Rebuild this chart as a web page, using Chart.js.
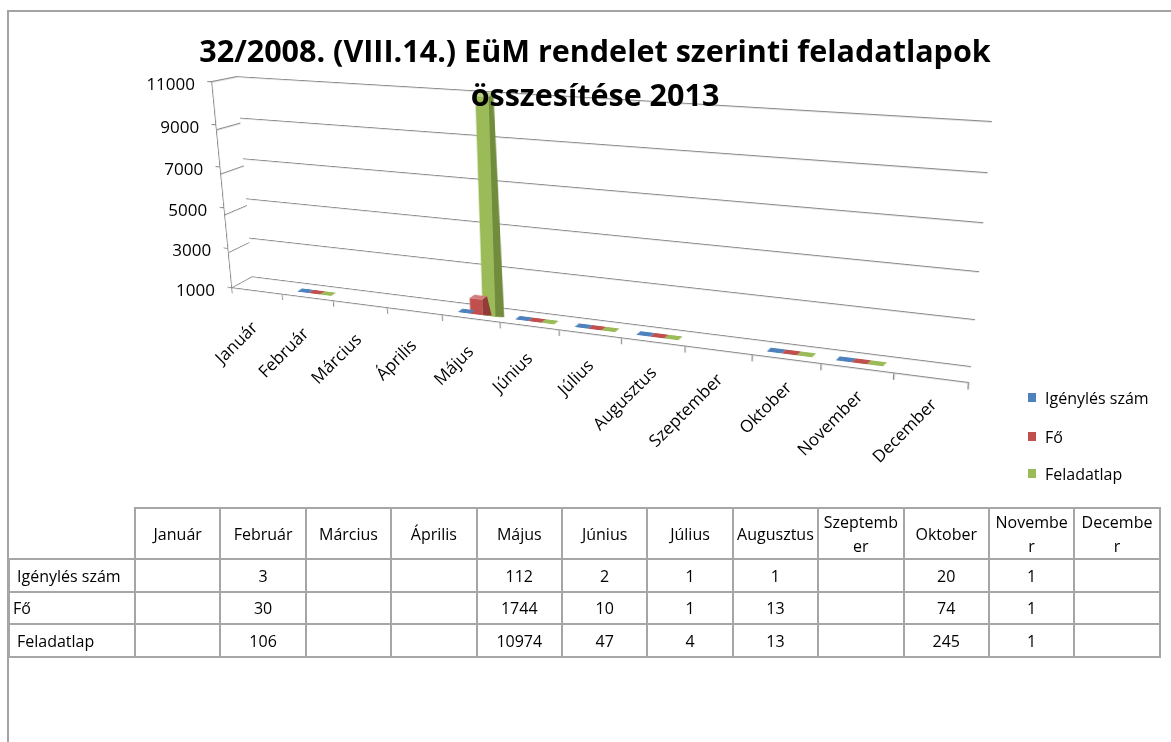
<!DOCTYPE html>
<html><head><meta charset="utf-8">
<script src="https://cdn.jsdelivr.net/npm/chart.js@4.4.1/dist/chart.umd.min.js"></script>
<style>
html,body{margin:0;padding:0;background:#fff;}
body{width:1171px;height:742px;overflow:hidden;position:relative;font-family:'Open Sans',sans-serif;color:#000;}
#stage{position:absolute;left:0;top:0;width:1171px;height:742px;}
#frame{position:absolute;left:7px;top:10px;width:1200px;height:800px;border-left:2px solid #a3a3a3;border-top:2px solid #a3a3a3;}
canvas.plane{position:absolute;left:0;top:0;transform-origin:0 0;}
.title{position:absolute;left:0;width:1190px;text-align:center;font-weight:bold;font-size:30.5px;line-height:30px;white-space:nowrap;}
.ylbl,.xlbl{position:absolute;white-space:nowrap;font-size:17px;line-height:17px;}
.ylbl{transform:translate(-100%,-50%);}
.xlbl{transform-origin:100% 50%;transform:translate(-100%,-50%) rotate(-45deg);}
.leg{position:absolute;font-size:16px;line-height:16px;white-space:nowrap;}
.leg i{position:absolute;left:-17px;top:3px;width:8px;height:9px;}
table{position:absolute;left:8px;top:507px;border-collapse:collapse;table-layout:fixed;width:1151px;font-size:16px;}
td{border:2px solid #a6a6a6;padding:0;text-align:center;line-height:22px;}
td.rl{text-align:left;}
</style></head>
<body>
<div id="stage"></div>
<div id="frame"></div>
<script>
// ---- data ----
const months = ['Január','Február','Március','Április','Május','Június','Július','Augusztus','Szeptember','Oktober','November','December'];
const tableHeaders = [['Január'],['Február'],['Március'],['Április'],['Május'],['Június'],['Július'],['Augusztus'],['Szeptemb','er'],['Oktober'],['Novembe','r'],['Decembe','r']];
const seriesNames = ['Igénylés szám','Fő','Feladatlap'];
const igenyles  = [null,3,null,null,112,2,1,1,null,20,1,null];
const fo        = [null,30,null,null,1744,10,1,13,null,74,1,null];
const feladatlap= [null,106,null,null,10974,47,4,13,null,245,1,null];
const yTicks = [1000,3000,5000,7000,9000,11000];
const titleLines = ['32/2008. (VIII.14.)  EüM rendelet szerinti feladatlapok','összesítése 2013'];

// ---- styles ----
const colors = ['#4F81BD','#C0504D','#9BBB59'];
const sideColors = ['#3A6192','#923B39','#728C3E'];
const topColors = ['#7FA2D2','#D47E7C','#B6CF82'];
const gridColor = '#8a8a8a';
const rowLabelPad = [7,3,7];

// quads (page coords): TL, TR, BR, BL
const QUAD_FRONT = [[212,82],[988,128],[969,383],[232,288]];
const QUAD_BACK  = [[237,77],[992,122],[971,367],[252,277]];
const QUAD_SIDE  = [[212,82],[237,77],[252,277],[232,288]];
const QUAD_BARS  = QUAD_FRONT.map((p,i)=>[p[0]+0.35*(QUAD_BACK[i][0]-p[0]), p[1]+0.35*(QUAD_BACK[i][1]-p[1])]);

function homography(src, dst){
  const A=[], b=[];
  for(let i=0;i<4;i++){
    const [x,y]=src[i],[u,v]=dst[i];
    A.push([x,y,1,0,0,0,-u*x,-u*y]); b.push(u);
    A.push([0,0,0,x,y,1,-v*x,-v*y]); b.push(v);
  }
  const n=8;
  for(let c=0;c<n;c++){
    let p=c; for(let r=c+1;r<n;r++) if(Math.abs(A[r][c])>Math.abs(A[p][c])) p=r;
    [A[c],A[p]]=[A[p],A[c]]; [b[c],b[p]]=[b[p],b[c]];
    for(let r=0;r<n;r++){ if(r===c) continue; const f=A[r][c]/A[c][c]; for(let k=c;k<n;k++) A[r][k]-=f*A[c][k]; b[r]-=f*b[c]; }
  }
  return b.map((v,i)=>v/A[i][i]);
}
function applyH(h,x,y){ const w=h[6]*x+h[7]*y+1; return [(h[0]*x+h[1]*y+h[2])/w,(h[3]*x+h[4]*y+h[5])/w]; }
function cssMatrix(h){ return 'matrix3d('+[h[0],h[3],0,h[6],h[1],h[4],0,h[7],0,0,1,0,h[2],h[5],0,1].join(',')+')'; }

const stage=document.getElementById('stage');
function makeCanvas(w,h){ const c=document.createElement('canvas'); c.width=w;c.height=h; c.className='plane'; stage.appendChild(c); return c; }
function place(chart, quad){
  const ca=chart.chartArea;
  const h=homography([[ca.left,ca.top],[ca.right,ca.top],[ca.right,ca.bottom],[ca.left,ca.bottom]], quad);
  chart.canvas.style.position='absolute'; chart.canvas.style.left='0px'; chart.canvas.style.top='0px';
  chart.canvas.style.transform=cssMatrix(h);
  return h;
}
const baseOpts = ()=>({responsive:false, animation:false, devicePixelRatio:1, events:[],
  plugins:{legend:{display:false},tooltip:{enabled:false}}});

function wallConfig(){
  return {
    type:'bar',
    data:{labels:months,datasets:[]},
    options:Object.assign(baseOpts(),{
      layout:{padding:10},
      scales:{
        x:{display:false},
        y:{min:1000,max:11000,ticks:{display:false,stepSize:2000},
           grid:{drawTicks:false,color:gridColor,lineWidth:1.2},border:{display:false}}
      }
    })
  };
}
const back = new Chart(makeCanvas(800,280), wallConfig());
const side = new Chart(makeCanvas(80,260), wallConfig());

// front plane: axis lines and tick marks
const axes = new Chart(makeCanvas(820,300), {
  type:'bar',
  data:{labels:months,datasets:[]},
  options:Object.assign(baseOpts(),{
    layout:{padding:20},
    scales:{
      x:{ticks:{display:false},grid:{drawOnChartArea:false,drawTicks:true,tickLength:7,color:gridColor,lineWidth:1.2},border:{display:true,color:gridColor,width:1.2}},
      y:{min:1000,max:11000,ticks:{display:false,stepSize:2000},grid:{drawOnChartArea:false,drawTicks:true,tickLength:6,color:gridColor,lineWidth:1.2},border:{display:true,color:gridColor,width:1.2}}
    }
  })
});

// simple 3D faces for each column (columns below the axis minimum sit flat on the floor)
const bar3d = {
  id:'bar3d',
  afterDatasetDraw(chart,args){
    const ctx=chart.ctx, meta=args.meta, ds=chart.data.datasets[args.index], ca=chart.chartArea;
    meta.data.forEach((el,i)=>{
      if(ds.data[i]==null) return;
      const p=el.getProps(['x','y','base','width'],true);
      const base=Math.min(p.base,ca.bottom), top=Math.min(p.y,base);
      const l=p.x-p.width/2, r=p.x+p.width/2;
      const f=1-0.6*(p.x-ca.left)/ca.width;
      const dxT=7*f, dxB=13*f, dy=-5;
      ctx.save();
      if(base-top>1){
        ctx.fillStyle=ds.sideColor;
        ctx.beginPath(); ctx.moveTo(r,top); ctx.lineTo(r+dxT,top+dy); ctx.lineTo(r+dxB,base-1); ctx.lineTo(r,base); ctx.closePath(); ctx.fill();
      }
      ctx.fillStyle=(base-top>1)?ds.topColor:ds.backgroundColor;
      ctx.beginPath(); ctx.moveTo(l,top); ctx.lineTo(r,top); ctx.lineTo(r+dxT,top+dy); ctx.lineTo(l+dxT,top+dy); ctx.closePath(); ctx.fill();
      ctx.restore();
    });
  }
};

const seriesData=[igenyles,fo,feladatlap];
const bars = new Chart(makeCanvas(820,300), {
  type:'bar',
  data:{labels:months,datasets:seriesData.map((d,k)=>({
    label:seriesNames[k], data:d, backgroundColor:colors[k], sideColor:sideColors[k], topColor:topColors[k],
    borderWidth:0, clip:0, categoryPercentage:0.66, barPercentage:1
  }))},
  options:Object.assign(baseOpts(),{
    layout:{padding:20},
    scales:{
      x:{display:false},
      y:{display:false,min:1000,max:11000}
    }
  }),
  plugins:[bar3d]
});

place(back,QUAD_BACK);
place(side,QUAD_SIDE);
const hF=place(axes,QUAD_FRONT);
place(bars,QUAD_BARS);

// axis labels from the front plane's scales
const ca=axes.chartArea, xs=axes.scales.x, ys=axes.scales.y;
yTicks.forEach(v=>{
  const [px,py]=applyH(hF,ca.left,ys.getPixelForValue(v));
  const d=document.createElement('div'); d.className='ylbl'; d.textContent=String(v);
  d.style.left=(px-17)+'px'; d.style.top=(py+1)+'px'; document.body.appendChild(d);
});
months.forEach((m,i)=>{
  const [px,py]=applyH(hF,xs.getPixelForValue(i),ca.bottom);
  const t=i/(months.length-1);
  const d=document.createElement('div'); d.className='xlbl'; d.textContent=m;
  d.style.left=(px-3+5*t)+'px'; d.style.top=(py+33-10*t)+'px'; document.body.appendChild(d);
});

// title
const tops=[35,79];
titleLines.forEach((s,i)=>{ const d=document.createElement('div'); d.className='title'; d.style.top=tops[i]+'px'; d.textContent=s; document.body.appendChild(d); });

// legend
const legY=[398,437,474];
seriesNames.forEach((s,k)=>{
  const d=document.createElement('div'); d.className='leg'; d.style.left='1045px'; d.style.top=(legY[k]-8)+'px';
  const sq=document.createElement('i'); sq.style.background=colors[k]; d.appendChild(sq);
  d.appendChild(document.createTextNode(s)); document.body.appendChild(d);
});

// data table
const tbl=document.createElement('table');
const cg=document.createElement('colgroup');
[126].concat(months.map(()=>85.4)).forEach(w=>{const c=document.createElement('col'); c.style.width=w+'px'; cg.appendChild(c);});
tbl.appendChild(cg);
const hr=document.createElement('tr'); hr.style.height='51px';
const c0=document.createElement('td'); c0.style.borderTop='none'; c0.style.borderLeft='none'; hr.appendChild(c0);
tableHeaders.forEach(h=>{ const td=document.createElement('td'); td.innerHTML=h.join('<br>'); if(h.length>1) td.style.lineHeight='24px'; hr.appendChild(td); });
tbl.appendChild(hr);
const rowH=[33,32,33];
seriesData.forEach((d,k)=>{
  const tr=document.createElement('tr'); tr.style.height=rowH[k]+'px';
  const l=document.createElement('td'); l.className='rl'; l.style.paddingLeft=rowLabelPad[k]+'px'; l.textContent=seriesNames[k]; tr.appendChild(l);
  d.forEach(v=>{ const td=document.createElement('td'); td.textContent=v==null?'':String(v); tr.appendChild(td); });
  tbl.appendChild(tr);
});
document.body.appendChild(tbl);
</script>
</body></html>
